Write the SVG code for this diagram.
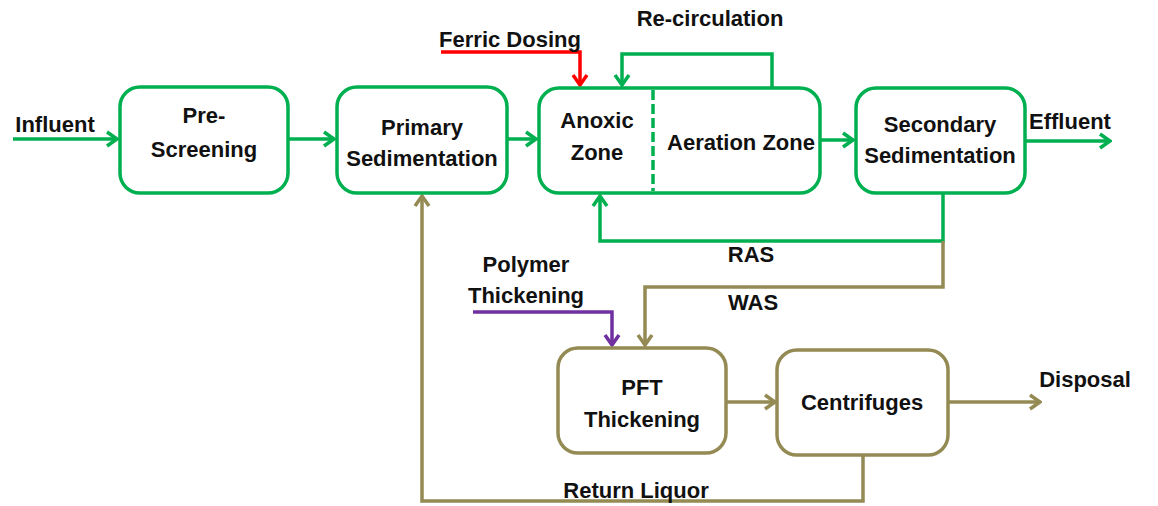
<svg xmlns="http://www.w3.org/2000/svg" width="1158" height="506" viewBox="0 0 1158 506">
<style>
text{font-family:"Liberation Sans",Arial,sans-serif;font-weight:bold;font-size:22px;fill:#111;text-anchor:middle}
.g{fill:#fff;stroke:#00B050;stroke-width:3.5}
.o{fill:#fff;stroke:#948A54;stroke-width:3.5}
.cg{fill:none;stroke:#00B050;stroke-width:3.5}
.co{fill:none;stroke:#948A54;stroke-width:3.5}
.cr{fill:none;stroke:#FF0000;stroke-width:3.5}
.cp{fill:none;stroke:#7030A0;stroke-width:3.5}
</style>
<defs>
<marker id="ag" markerUnits="userSpaceOnUse" viewBox="0 0 14 18" refX="12" refY="9" markerWidth="14" markerHeight="18" orient="auto"><path d="M2,2 L12,9 L2,16" fill="none" stroke="#00B050" stroke-width="3.5"/></marker>
<marker id="ao" markerUnits="userSpaceOnUse" viewBox="0 0 14 18" refX="12" refY="9" markerWidth="14" markerHeight="18" orient="auto"><path d="M2,2 L12,9 L2,16" fill="none" stroke="#948A54" stroke-width="3.5"/></marker>
<marker id="ar" markerUnits="userSpaceOnUse" viewBox="0 0 14 18" refX="12" refY="9" markerWidth="14" markerHeight="18" orient="auto"><path d="M2,2 L12,9 L2,16" fill="none" stroke="#FF0000" stroke-width="3.5"/></marker>
<marker id="ap" markerUnits="userSpaceOnUse" viewBox="0 0 14 18" refX="12" refY="9" markerWidth="14" markerHeight="18" orient="auto"><path d="M2,2 L12,9 L2,16" fill="none" stroke="#7030A0" stroke-width="3.5"/></marker>
</defs>
<rect width="1158" height="506" fill="#fff"/>
<g id="connectors">
<path class="cg" d="M13,139 H117" marker-end="url(#ag)"/>
<path class="cg" d="M288,139 H334" marker-end="url(#ag)"/>
<path class="cg" d="M507,139 H536" marker-end="url(#ag)"/>
<path class="cg" d="M820,140 H853" marker-end="url(#ag)"/>
<path class="cg" d="M1025,141 H1110" marker-end="url(#ag)"/>
<path class="cg" d="M772,88 V54 H622 V85" marker-end="url(#ag)"/>
<path class="cg" d="M943,193 V241 H600 V196" marker-end="url(#ag)"/>
<path class="cr" d="M441,52 H580 V85" marker-end="url(#ar)"/>
<path class="cp" d="M473,312 H612 V345" marker-end="url(#ap)"/>
<path class="co" d="M943,241 V287 H645 V345" marker-end="url(#ao)"/>
<path class="co" d="M726,402 H775" marker-end="url(#ao)"/>
<path class="co" d="M948,402 H1040" marker-end="url(#ao)"/>
<path class="co" d="M863,455 V501 H422 V196" marker-end="url(#ao)"/>
</g>
<g id="prescreening"><rect class="g" x="120" y="87" width="168" height="106" rx="20"/><text x="204" y="123">Pre-</text><text x="204" y="157">Screening</text></g>
<g id="primary"><rect class="g" x="337" y="87" width="170" height="106" rx="20"/><text x="422" y="135">Primary</text><text x="422" y="166">Sedimentation</text></g>
<g id="anoxic-aeration"><rect class="g" x="539" y="88" width="281" height="105" rx="20"/><line x1="653" y1="90" x2="653" y2="191" stroke="#00B050" stroke-width="3.5" stroke-dasharray="10 4"/><text x="597" y="128">Anoxic</text><text x="597" y="160">Zone</text><text x="741" y="150">Aeration Zone</text></g>
<g id="secondary"><rect class="g" x="856" y="88" width="169" height="105" rx="20"/><text x="940" y="132">Secondary</text><text x="940" y="163">Sedimentation</text></g>
<g id="pft"><rect class="o" x="558" y="348" width="168" height="105" rx="20"/><text x="642" y="395">PFT</text><text x="642" y="427">Thickening</text></g>
<g id="centrifuges"><rect class="o" x="777" y="350" width="171" height="105" rx="20"/><text x="862" y="410">Centrifuges</text></g>
<g id="labels">
<text x="55" y="132">Influent</text>
<text x="1070" y="129">Effluent</text>
<text x="510" y="47">Ferric Dosing</text>
<text x="710" y="26">Re-circulation</text>
<text x="751" y="262">RAS</text>
<text x="753" y="310">WAS</text>
<text x="526" y="272">Polymer</text>
<text x="526" y="303">Thickening</text>
<text x="1085" y="387">Disposal</text>
<text x="636" y="498">Return Liquor</text>
</g>
</svg>
